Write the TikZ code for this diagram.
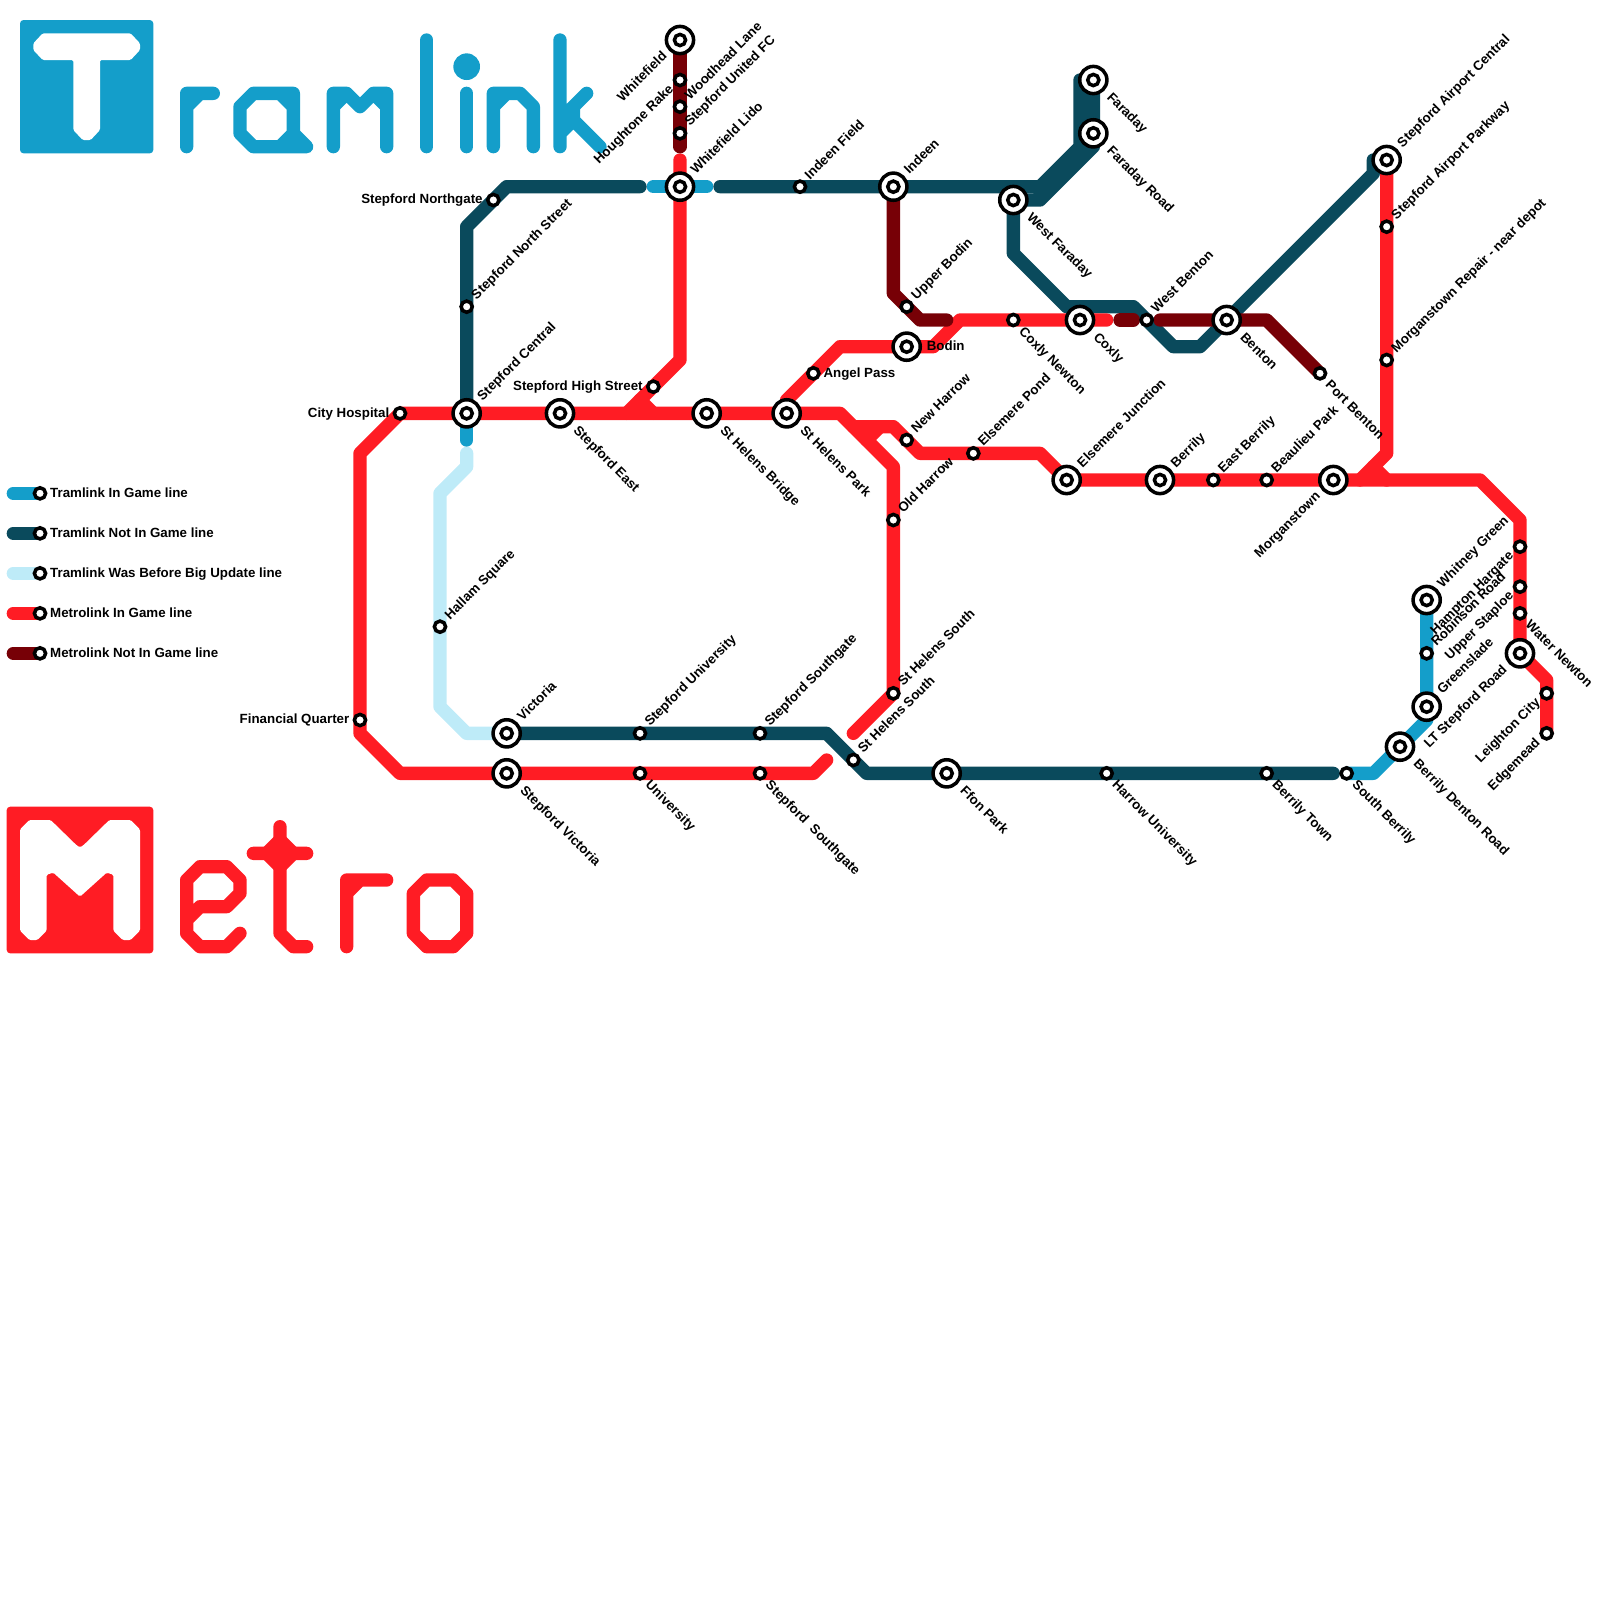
\documentclass[tikz,border=0pt]{standalone}
\usepackage{fontspec}
\setmainfont{Liberation Sans}
\usetikzlibrary{backgrounds}

\tikzset{
    stoplabel/.style={font=\fontsize{3.79}{4.5}\selectfont\bfseries, text=black, inner sep=0pt},
    labelne/.style={stoplabel, anchor=mid west, xshift=0.03cm, yshift=0.125cm, rotate=45},
    labelse/.style={stoplabel, anchor=mid west, xshift=0.11cm, yshift=-0.055cm, rotate=-45},
    labelsw/.style={stoplabel, anchor=mid east, xshift=-0.12cm, yshift=-0.03cm, rotate=45},
    labelw/.style={stoplabel, anchor=mid east, xshift=-0.10cm, yshift=0.055cm},
    labele/.style={stoplabel, anchor=mid west, xshift=0.095cm, yshift=0.055cm},
    bigne/.style={stoplabel, anchor=mid west, xshift=0.09cm, yshift=0.18cm, rotate=45},
    bigse/.style={stoplabel, anchor=mid west, xshift=0.19cm, yshift=-0.11cm, rotate=-45},
    bigsw/.style={stoplabel, anchor=mid east, xshift=-0.185cm, yshift=-0.10cm, rotate=45},
    bige/.style={stoplabel, anchor=mid west, xshift=0.195cm, yshift=0.055cm},
    smallstop/.style={circle, draw=black, fill=white, line width=1pt, minimum size=0.112cm, inner sep=0pt},
    bigstop/.style={circle, draw=black, fill=white, line width=1pt, minimum size=0.272cm, inner sep=0pt},
    bighub/.style={circle, draw=black, fill=white, line width=1pt, minimum size=0.112cm, inner sep=0pt},
    routeline/.style={line width=0.13333cm, line cap=round, line join=round},
}

\begin{document}
\begin{tikzpicture}[x=0.13333cm, y=-0.13333cm]
    \definecolor{tramin}{RGB}{20,158,202}
    \definecolor{tramout}{RGB}{10,74,92}
    \definecolor{tramold}{RGB}{190,235,248}
    \definecolor{metroin}{RGB}{255,28,36}
    \definecolor{metroout}{RGB}{119,0,6}

    \useasboundingbox (0,0) rectangle (120,120);

    \newcommand{\stopsmall}[5]{%
        \node[smallstop] (#1) at (#2,#3) {};
        \node[#4] (#1text) at (#1) {#5};
    }
    \newcommand{\stopbig}[5]{%
        \node[bigstop] (#1) at (#2,#3) {};
        \node[bighub] (#1hub) at (#1) {};
        \node[#4] (#1text) at (#1) {#5};
    }

    % Legend.
    \stopsmall{keyin}{3}{37}{labele}{Tramlink In Game line}
    \stopsmall{keyout}{3}{40}{labele}{Tramlink Not In Game line}
    \stopsmall{keyold}{3}{43}{labele}{Tramlink Was Before Big Update line}
    \stopsmall{keymetro}{3}{46}{labele}{Metrolink In Game line}
    \stopsmall{keymetroout}{3}{49}{labele}{Metrolink Not In Game line}

    % Stops, west part.
    \stopbig{whitefield}{51}{3}{bigsw}{Whitefield}
    \stopsmall{rake}{51}{6}{labelsw}{Houghtone Rake}
    \stopsmall{woodhead}{51}{8}{labelne}{Woodhead Lane}
    \stopsmall{united}{51}{10}{labelne}{Stepford United FC}
    \stopbig{lido}{51}{14}{bigne}{Whitefield Lido}
    \stopsmall{northgate}{37}{15}{labelw}{Stepford Northgate}
    \stopsmall{northstreet}{35}{23}{labelne}{Stepford North Street}
    \stopbig{central}{35}{31}{bigne}{Stepford Central}
    \stopsmall{hospital}{30}{31}{labelw}{City Hospital}
    \stopbig{stepeast}{42}{31}{bigse}{Stepford East}
    \stopsmall{highstreet}{49}{29}{labelw}{Stepford High Street}
    \stopbig{bridge}{53}{31}{bigse}{St Helens Bridge}
    \stopbig{helenspark}{59}{31}{bigse}{St Helens Park}
    \stopsmall{hallam}{33}{47}{labelne}{Hallam Square}
    \stopsmall{financial}{27}{54}{labelw}{Financial Quarter}
    \stopbig{victoria}{38}{55}{bigne}{Victoria}
    \stopbig{stepvictoria}{38}{58}{bigse}{Stepford Victoria}
    \stopsmall{stepuni}{48}{55}{labelne}{Stepford University}
    \stopsmall{university}{48}{58}{labelse}{University}
    \stopsmall{southgate}{57}{55}{labelne}{Stepford Southgate}
    \stopsmall{southgatelow}{57}{58}{labelse}{Stepford\ \ Southgate}

    % Stops, middle part.
    \stopsmall{indeenfield}{60}{14}{labelne}{Indeen Field}
    \stopbig{indeen}{67}{14}{bigne}{Indeen}
    \stopsmall{upperbodin}{68}{23}{labelne}{Upper Bodin}
    \stopbig{bodin}{68}{26}{bige}{Bodin}
    \stopsmall{angel}{61}{28}{labele}{Angel Pass}
    \stopsmall{newharrow}{68}{33}{labelne}{New Harrow}
    \stopsmall{oldharrow}{67}{39}{labelne}{Old Harrow}
    \stopsmall{elsepond}{73}{34}{labelne}{Elsemere Pond}
    \stopsmall{helensnorth}{67}{52}{labelne}{St Helens South}
    \stopsmall{helenssouth}{64}{57}{labelne}{St Helens South}
    \stopbig{ffon}{71}{58}{bigse}{Ffon Park}
    \stopbig{westfaraday}{76}{15}{bigse}{West Faraday}
    \stopbig{faraday}{82}{6}{bigse}{Faraday}
    \stopbig{faradayroad}{82}{10}{bigse}{Faraday Road}
    \stopsmall{coxlynewton}{76}{24}{labelse}{Coxly Newton}
    \stopbig{coxly}{81}{24}{bigse}{Coxly}
    \stopsmall{westbenton}{86}{24}{labelne}{West Benton}
    \stopbig{benton}{92}{24}{bigse}{Benton}
    \stopsmall{portbenton}{99}{28}{labelse}{Port Benton}

    % Stops, east part.
    \stopbig{airport}{104}{12}{bigne}{Stepford Airport Central}
    \stopsmall{parkway}{104}{17}{labelne}{Stepford Airport Parkway}
    \stopsmall{repair}{104}{27}{labelne}{Morganstown Repair - near depot}
    \stopbig{elsejunction}{80}{36}{bigne}{Elsemere Junction}
    \stopbig{berrily}{87}{36}{bigne}{Berrily}
    \stopsmall{eastberrily}{91}{36}{labelne}{East Berrily}
    \stopsmall{beaulieu}{95}{36}{labelne}{Beaulieu Park}
    \stopbig{morganstown}{100}{36}{bigsw}{Morganstown}
    \stopsmall{harrowuni}{83}{58}{labelse}{Harrow University}
    \stopsmall{berrilytown}{95}{58}{labelse}{Berrily Town}
    \stopsmall{southberrily}{101}{58}{labelse}{South Berrily}
    \stopbig{denton}{105}{56}{bigse}{Berrily Denton Road}
    \stopbig{greenslade}{107}{53}{bigne}{Greenslade}
    \stopsmall{robinson}{107}{49}{labelne}{Robinson Road}
    \stopbig{whitney}{107}{45}{bigne}{Whitney Green}
    \stopsmall{hargate}{114}{41}{labelsw}{Hampton Hargate}
    \stopsmall{staploe}{114}{44}{labelsw}{Upper Staploe}
    \stopsmall{waternewton}{114}{46}{labelse}{Water Newton}
    \stopbig{ltstepford}{114}{49}{bigsw}{LT Stepford Road}
    \stopsmall{leighton}{116}{52}{labelsw}{Leighton City}
    \stopsmall{edgemead}{116}{55}{labelsw}{Edgemead}

    \begin{scope}[on background layer]
    % Tramlink lettering.
    \fill[tramin, rounded corners=1pt] (1.5,1.5) rectangle (11.5,11.5);
    \fill[white, rounded corners=0.4pt]
        (3.2,2.5) -- (9.8,2.5) -- (10.5,3.25) -- (10.5,3.75) -- (9.8,4.5) -- (7.5,4.5)
        -- (7.5,9.75) -- (6.8,10.5) -- (6.2,10.5) -- (5.5,9.75) -- (5.5,4.5) -- (3.2,4.5)
        -- (2.5,3.75) -- (2.5,3.25) -- cycle;
    \draw[routeline, tramin] (14,11) -- (14,7) -- (16,7) (14,8) -- (15,7);
    \draw[routeline, tramin] (19,7) -- (18,8) -- (18,10) -- (19,11) -- (23,11) -- (22,10) -- (22,7) -- cycle
        (21,7) -- (22,8) (22,10) -- (21,11);
    \draw[routeline, tramin] (25,11) -- (25,7) -- (26,7) -- (27,8) -- (28,7) -- (29,7) -- (29,11)
        (25,8) -- (26,7) (28,7) -- (29,8);
    \draw[routeline, tramin] (32,3) -- (32,11);
    \fill[tramin] (35,5) circle[radius=1];
    \draw[routeline, tramin] (35,7) -- (35,11);
    \draw[routeline, tramin] (37,11) -- (37,7) -- (39,7) -- (40,8) -- (40,11) (37,8) -- (38,7);
    \draw[routeline, tramin] (42,3) -- (42,11) (44,7) -- (42,9) (42,8) -- (45,11)
        (42,10) -- (43,9) (43,8) -- (43,9);

    % Metro lettering.
    \fill[metroin, rounded corners=1pt] (0.5,60.5) rectangle (11.5,71.5);
    \fill[white, rounded corners=0.4pt]
        (1.5,62.2) -- (2.2,61.5) -- (3.8,61.5) -- (5.75,63.4) -- (6,63.55) -- (6.25,63.4)
        -- (8.2,61.5) -- (9.8,61.5) -- (10.5,62.2) -- (10.5,69.8) -- (9.8,70.5) -- (9.2,70.5)
        -- (8.5,69.8) -- (8.5,65.6) -- (8,65.45) -- (6,67.25) -- (4,65.45) -- (3.5,65.6)
        -- (3.5,69.8) -- (2.8,70.5) -- (2.2,70.5) -- (1.5,69.8) -- cycle;
    \draw[routeline, metroin] (18,70) -- (17,71) -- (15,71) -- (14,70) -- (14,66) -- (15,65) -- (17,65)
        -- (18,66) -- (18,67) -- (17,68) -- (15,68) -- (14,69);
    \draw[routeline, metroin] (21,62) -- (21,70) -- (22,71) -- (23,71) (19,64) -- (23,64);
    \filldraw[routeline, metroin] (20,64) -- (21,63) -- (22,64) -- (21,65) -- cycle;
    \draw[routeline, metroin] (26,71) -- (26,66) -- (29,66) (26,67) -- (27,66);
    \draw[routeline, metroin] (32,66) -- (34,66) -- (35,67) -- (35,70) -- (34,71) -- (32,71) -- (31,70) -- (31,67) -- cycle;

    % Old Tramlink.
    \draw[routeline, tramold] (35,34) -- (35,35) -- (33,37) -- (hallam.center) -- (33,53) -- (35,55) -- (victoria.center);
    \draw[routeline, tramold] (1,43) -- (keyold.center);

    % Tramlink in game.
    \draw[routeline, tramin] (central.center) -- (35,33);
    \draw[routeline, tramin] (49,14) -- (53,14);
    \draw[routeline, tramin] (whitney.center) -- (robinson.center) -- (greenslade.center) -- (107,54)
        -- (denton.center) -- (103,58) -- (southberrily.center);
    \draw[routeline, tramin] (1,37) -- (keyin.center);

    % Tramlink not in game.
    \draw[routeline, tramout] (central.center) -- (northstreet.center) -- (35,17) -- (northgate.center) -- (38,14) -- (48,14);
    \draw[routeline, tramout] (54,14) -- (indeenfield.center) -- (indeen.center) -- (78,14) -- (81,11) -- (81,6);
    \draw[routeline, tramout] (faraday.center) -- (faradayroad.center) -- (82,11) -- (78,15) -- (westfaraday.center);
    \draw[routeline, tramout] (81.5,6.5) -- (81.5,11) -- (78,14.5);
    \draw[routeline, tramout] (westfaraday.center) -- (76,19) -- (80,23) -- (85,23) -- (westbenton.center) -- (88,26)
        -- (90,26) -- (benton.center) -- (103,13) -- (103,12) -- (airport.center);
    \draw[routeline, tramout] (victoria.center) -- (stepuni.center) -- (southgate.center) -- (62,55)
        -- (helenssouth.center) -- (65,58) -- (ffon.center) -- (harrowuni.center) -- (berrilytown.center) -- (100,58);
    \draw[routeline, tramout] (1,40) -- (keyout.center);

    % Metrolink in game.
    \draw[routeline, metroin] (51,12) -- (lido.center) -- (51,27) -- (highstreet.center) -- (47,31);
    \draw[routeline, metroin] (48,30) -- (49,31);
    \draw[routeline, metroin] (62,57) -- (61,58) -- (southgatelow.center) -- (university.center) -- (stepvictoria.center)
        -- (30,58) -- (27,55) -- (financial.center) -- (27,34) -- (hospital.center) -- (central.center) -- (stepeast.center)
        -- (bridge.center) -- (helenspark.center) -- (63,31) -- (67,35) -- (oldharrow.center) -- (helensnorth.center) -- (64,55);
    \draw[routeline, metroin] (64,32) -- (67,32) -- (newharrow.center) -- (69,34) -- (elsepond.center) -- (78,34)
        -- (elsejunction.center) -- (berrily.center) -- (eastberrily.center) -- (beaulieu.center) -- (morganstown.center)
        -- (111,36) -- (114,39) -- (hargate.center) -- (staploe.center) -- (waternewton.center) -- (ltstepford.center)
        -- (116,51) -- (leighton.center) -- (edgemead.center);
    \draw[routeline, metroin] (65,33) -- (66,32);
    \draw[routeline, metroin] (helenspark.center) -- (59,30) -- (angel.center) -- (63,26) -- (bodin.center) -- (70,26)
        -- (72,24) -- (coxlynewton.center) -- (coxly.center) -- (83,24);
    \draw[routeline, metroin] (airport.center) -- (parkway.center) -- (repair.center) -- (104,34) -- (102,36);
    \draw[routeline, metroin] (103,35) -- (104,36);
    \draw[routeline, metroin] (1,46) -- (keymetro.center);

    % Metrolink not in game.
    \draw[routeline, metroout] (whitefield.center) -- (rake.center) -- (woodhead.center) -- (united.center) -- (51,11);
    \draw[routeline, metroout] (indeen.center) -- (67,22) -- (upperbodin.center) -- (69,24) -- (71,24);
    \draw[routeline, metroout] (84,24) -- (85,24);
    \draw[routeline, metroout] (87,24) -- (benton.center) -- (95,24) -- (portbenton.center);
    \draw[routeline, metroout] (1,49) -- (keymetroout.center);
    \end{scope}
\end{tikzpicture}
\end{document}
